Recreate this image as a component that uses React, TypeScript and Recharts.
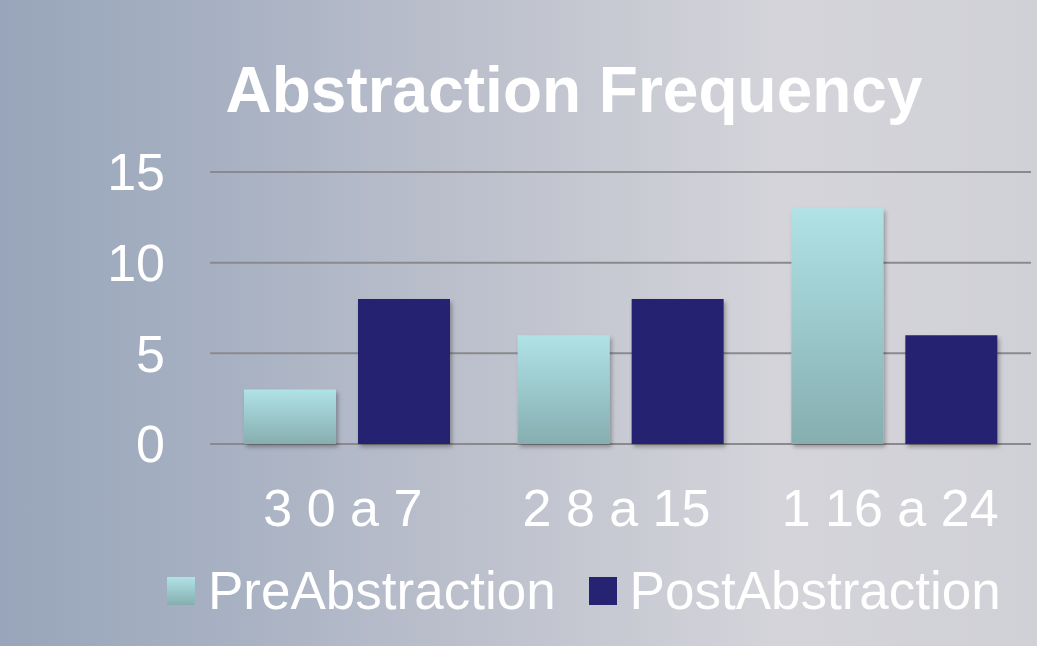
import { BarChart, Bar, XAxis, YAxis, CartesianGrid, Legend } from "recharts";

const categories = ["3 0 a 7", "2 8 a 15", "1 16 a 24"];
const preAbstraction = [3, 6, 13];
const postAbstraction = [8, 8, 6];
const yTicks = [0, 5, 10, 15];

const data = categories.map((c, i) => ({
  name: c,
  PreAbstraction: preAbstraction[i],
  PostAbstraction: postAbstraction[i],
}));

const FONT = "'Liberation Sans', Arial, sans-serif";

function LegendContent() {
  const item = (label: string, swatch: string) => (
    <div style={{ display: "flex", alignItems: "center", marginRight: 33 }}>
      <div style={{ width: 28, height: 28, background: swatch, marginRight: 13 }} />
      <span style={{ color: "#fff", fontSize: 53, fontFamily: FONT, lineHeight: "60px" }}>{label}</span>
    </div>
  );
  return (
    <div style={{ display: "flex", alignItems: "center" }}>
      {item("PreAbstraction", "linear-gradient(#b0e2e6, #86aeb0)")}
      {item("PostAbstraction", "#262472")}
    </div>
  );
}

export default function App() {
  return (
    <div
      style={{
        position: "absolute",
        left: 0,
        top: 0,
        width: 1037,
        height: 646,
        overflow: "hidden",
        background:
          "linear-gradient(90deg, #98a5ba 0%, #a6b0c2 20%, #bcc0cc 45%, #d4d4da 75%, #d0d1d7 100%)",
        fontFamily: FONT,
      }}
    >
      <div
        style={{
          position: "absolute",
          left: 0,
          top: 52,
          width: 1148,
          textAlign: "center",
          color: "#fff",
          fontSize: 64,
          fontWeight: "bold",
          lineHeight: "76px",
        }}
      >
        Abstraction Frequency
      </div>
      <BarChart
        width={1037}
        height={646}
        data={data}
        margin={{ top: 172, right: 6, bottom: 102, left: 0 }}
        barSize={92}
        barGap={22}
      >
        <defs>
          <linearGradient id="preGrad" x1="0" y1="0" x2="0" y2="1">
            <stop offset="0%" stopColor="#b0e2e6" />
            <stop offset="100%" stopColor="#86aeb0" />
          </linearGradient>
          <filter id="shadow" x="-10%" y="-10%" width="130%" height="130%">
            <feDropShadow dx="2" dy="3" stdDeviation="2" floodColor="#000" floodOpacity="0.3" />
          </filter>
        </defs>
        <CartesianGrid vertical={false} stroke="#8a8a8e" strokeWidth={2} />
        <XAxis
          dataKey="name"
          axisLine={false}
          tickLine={false}
          tickSize={0}
          tickMargin={45}
          height={100}
          tick={{ fill: "#fff", fontSize: 52, fontFamily: FONT, dx: -4 }}
        />
        <YAxis
          domain={[0, 15]}
          ticks={yTicks}
          axisLine={false}
          tickLine={false}
          tickSize={0}
          tickMargin={45}
          width={210}
          tick={{ fill: "#fff", fontSize: 52, fontFamily: FONT }}
        />
        <Legend
          verticalAlign="middle"
          align="center"
          layout="horizontal"
          wrapperStyle={{ top: 561, left: 167, width: 900 }}
          content={() => <LegendContent />}
        />
        <Bar dataKey="PreAbstraction" fill="url(#preGrad)" filter="url(#shadow)" isAnimationActive={false} />
        <Bar dataKey="PostAbstraction" fill="#262472" filter="url(#shadow)" isAnimationActive={false} />
      </BarChart>
    </div>
  );
}
